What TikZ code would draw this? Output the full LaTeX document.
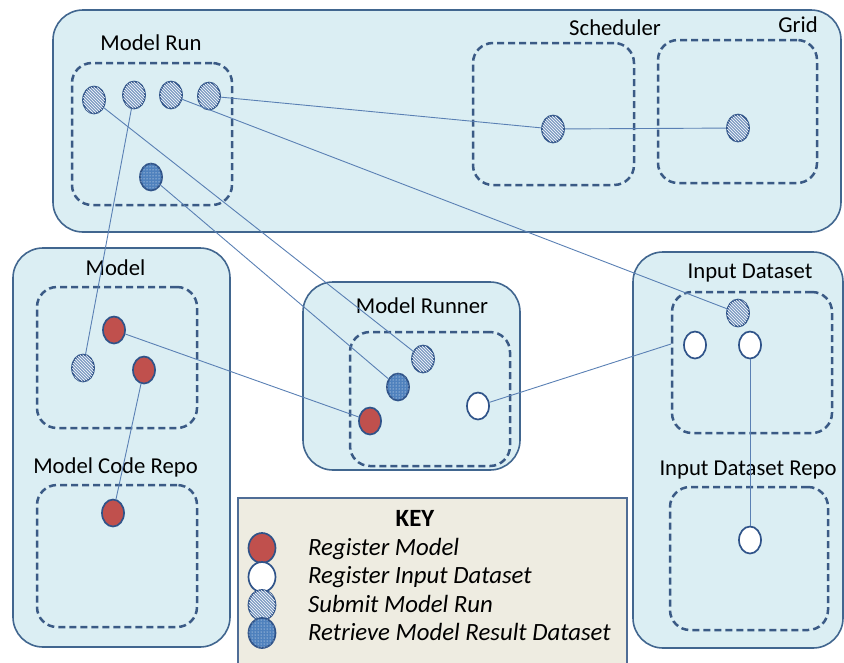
\documentclass[tikz,border=0pt]{standalone}
\usepackage{fontspec}
\setmainfont{Carlito}
\usetikzlibrary{shapes.geometric,patterns}
\definecolor{contfill}{HTML}{DBEEF3}
\definecolor{contborder}{HTML}{41668F}
\definecolor{dashcol}{HTML}{3A5A85}
\definecolor{ellborder}{HTML}{2F5389}
\definecolor{redfill}{HTML}{C0504D}
\definecolor{hatchbase}{HTML}{7F9CC4}
\definecolor{bluefill}{HTML}{4F81BD}
\definecolor{linecol}{HTML}{5A80B4}
\definecolor{keyfill}{HTML}{EEECE1}
\definecolor{keyborder}{HTML}{4F6D96}
\tikzset{
  container/.style={draw=contborder, line width=1.6pt, fill=contfill, rounded corners=30pt, inner sep=0pt},
  dashbox/.style={draw=dashcol, line width=2.5pt, dash pattern=on 7pt off 4pt, rounded corners=20pt, inner sep=0pt},
  lbl/.style={font=\fontsize{22.7}{26}\selectfont, anchor=base, inner sep=0pt},
  keytxt/.style={font=\fontsize{24.8}{28}\selectfont\itshape, anchor=base west, inner sep=0pt},
  dot/.style={ellipse, draw=ellborder, line width=1.7pt, minimum width=22pt, minimum height=27pt, inner sep=0pt},
  kdot/.style={dot, minimum width=27pt, minimum height=30pt},
  regmodel/.style={fill=redfill},
  reginput/.style={fill=white},
  submit/.style={fill=hatchbase, postaction={pattern=north west lines, pattern color=white}},
  retrieve/.style={fill=bluefill, postaction={pattern=dots, pattern color=white}},
  conn/.style={draw=linecol, line width=0.9pt}
}
\begin{document}
\begin{tikzpicture}[x=1pt,y=-1pt]
\useasboundingbox (0,0) rectangle (844,662);
\clip (0,0) rectangle (844,662);
% containers
\node[container, minimum width=788pt, minimum height=222pt] (top) at (447,121) {};
\node[container, minimum width=217pt, minimum height=399pt] (modelc) at (121.5,447.5) {};
\node[container, minimum width=217pt, minimum height=188pt] (runnerc) at (411.5,376) {};
\node[container, minimum width=210pt, minimum height=396pt] (inputc) at (738,450) {};
\node[draw=keyborder, line width=1.6pt, fill=keyfill, minimum width=389pt, minimum height=182pt, inner sep=0pt] (key) at (432.5,589) {};
% dashed boxes
\node[dashbox, minimum width=160pt, minimum height=142pt] (mrdash) at (152,134) {};
\node[dashbox, minimum width=161pt, minimum height=142pt] (scdash) at (553.5,114) {};
\node[dashbox, minimum width=159pt, minimum height=143pt] (griddash) at (737.5,111.5) {};
\node[dashbox, minimum width=160pt, minimum height=141pt] (mdash) at (117,357.5) {};
\node[dashbox, minimum width=160pt, minimum height=142pt] (codedash) at (117,556) {};
\node[dashbox, minimum width=160pt, minimum height=134pt] (rundash) at (430,399) {};
\node[dashbox, minimum width=160pt, minimum height=141pt] (indash) at (752,362.5) {};
\node[dashbox, minimum width=158pt, minimum height=143pt] (repodash) at (749,558.5) {};
% labels
\node[lbl] (lmr) at (151,50) {Model Run};
\node[lbl] (lsc) at (615,35) {Scheduler};
\node[lbl] (lgrid) at (798,32) {Grid};
\node[lbl] (lmodel) at (115.5,275) {Model};
\node[lbl] (lcode) at (115.5,473) {Model Code Repo};
\node[lbl] (lrun) at (422,313) {Model Runner};
\node[lbl] (lin) at (750,278) {Input Dataset};
\node[lbl] (lrepo) at (748,475) {Input Dataset Repo};
% ellipses
\node[dot, submit] (mr1) at (94,100) {};
\node[dot, submit] (mr2) at (134,95) {};
\node[dot, submit] (mr3) at (171,95) {};
\node[dot, submit] (mr4) at (209,96) {};
\node[dot, retrieve] (mr5) at (151,177) {};
\node[dot, submit] (sc) at (553,129) {};
\node[dot, submit] (gr) at (738,128) {};
\node[dot, submit] (mh) at (83,368) {};
\node[dot, regmodel] (mred1) at (114,330) {};
\node[dot, regmodel] (mred2) at (144,370) {};
\node[dot, regmodel] (cred) at (113,513) {};
\node[dot, submit] (rh) at (423,359) {};
\node[dot, retrieve] (rb) at (398,387) {};
\node[dot, regmodel] (rred) at (370,421) {};
\node[dot, reginput] (rw) at (478,406) {};
\node[dot, submit] (ih) at (738,313) {};
\node[dot, reginput] (iw1) at (695,345) {};
\node[dot, reginput] (iw2) at (750,345) {};
\node[dot, reginput] (repow) at (750,540) {};
\coordinate (inedge) at (671,344);
% connectors
\draw[conn] (mr1) -- (rh);
\draw[conn] (mr2) -- (mh);
\draw[conn] (mr3) -- (ih);
\draw[conn] (mr4) -- (sc);
\draw[conn] (sc) -- (gr);
\draw[conn] (mr5) -- (rb);
\draw[conn] (mred1) -- (rred);
\draw[conn] (mred2) -- (cred);
\draw[conn] (rw) -- (inedge);
\draw[conn] (iw2) -- (repow);
% key
\node[font=\fontsize{24.8}{28}\selectfont\bfseries, anchor=base, inner sep=0pt] (keyt) at (415,526) {KEY};
\node[kdot, regmodel] (k1) at (262,548) {};
\node[kdot, reginput] (k2) at (262,577) {};
\node[kdot, submit] (k3) at (262,605) {};
\node[kdot, retrieve] (k4) at (262,633) {};
\node[keytxt] (kt1) at (308,555) {Register Model};
\node[keytxt] (kt2) at (308,583) {Register Input Dataset};
\node[keytxt] (kt3) at (308,612) {Submit Model Run};
\node[keytxt] (kt4) at (308,640) {Retrieve Model Result Dataset};
\end{tikzpicture}
\end{document}
